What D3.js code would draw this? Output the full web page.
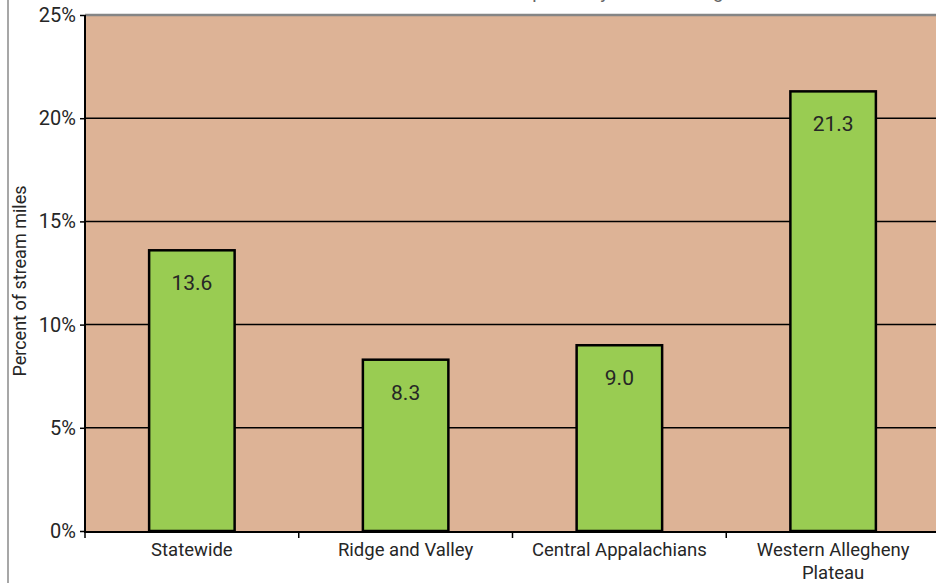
<!DOCTYPE html>
<html>
<head>
<meta charset="utf-8">
<script src="https://cdn.jsdelivr.net/npm/d3@7"></script>
<style>
  html, body { margin: 0; padding: 0; background: #ffffff; }
  svg { display: block; }
  text { font-family: Roboto, "Noto Sans", sans-serif; fill: #262626; }
</style>
</head>
<body>
<svg id="chart" width="936" height="583"></svg>
<script>
// ---- data ----
const categories = ["Statewide", "Ridge and Valley", "Central Appalachians", "Western Allegheny Plateau"];
const categoryLines = [["Statewide"], ["Ridge and Valley"], ["Central Appalachians"], ["Western Allegheny", "Plateau"]];
const values = [13.6, 8.3, 9.0, 21.3];
const yTicks = [0, 5, 10, 15, 20, 25];
const titleText = "Extent of stream miles impaired by mine drainage";
const yTitle = "Percent of stream miles";

// ---- layout ----
const W = 936, H = 583;
const plot = { left: 85, right: 940, top: 15, bottom: 531 };
const bgColor = "#DDB396";
const barColor = "#99CC52";

const svg = d3.select("#chart");

const x = d3.scaleBand()
  .domain(categories)
  .range([plot.left, plot.right])
  .paddingInner(0.6)
  .paddingOuter(0.3);

const y = d3.scaleLinear()
  .domain([0, 25])
  .range([plot.bottom, plot.top]);

// outer frame line at left
svg.append("line")
  .attr("x1", 8).attr("x2", 8).attr("y1", 0).attr("y2", H)
  .attr("stroke", "#8a8a8a").attr("stroke-width", 1.5);

// title (cropped at the top edge, as in the reference)
svg.append("text")
  .attr("x", 525).attr("y", -2)
  .attr("text-anchor", "middle")
  .style("font-size", "19px")
  .style("fill", "#666")
  .text(titleText);

// plot background
svg.append("rect")
  .attr("x", plot.left).attr("y", plot.top)
  .attr("width", plot.right - plot.left)
  .attr("height", plot.bottom - plot.top)
  .attr("fill", bgColor);

// gridlines
svg.append("g")
  .selectAll("line")
  .data(yTicks.filter(d => d > 0 && d < 25))
  .join("line")
  .attr("x1", plot.left).attr("x2", plot.right)
  .attr("y1", d => y(d)).attr("y2", d => y(d))
  .attr("stroke", "#000").attr("stroke-width", 1.5);

// top border (25%)
svg.append("line")
  .attr("x1", plot.left).attr("x2", plot.right)
  .attr("y1", y(25)).attr("y2", y(25))
  .attr("stroke", "#858585").attr("stroke-width", 2.5);

// bars
svg.append("g")
  .selectAll("rect")
  .data(values)
  .join("rect")
  .attr("x", (d, i) => x(categories[i]))
  .attr("y", d => y(d))
  .attr("width", x.bandwidth())
  .attr("height", d => y(0) - y(d))
  .attr("fill", barColor)
  .attr("stroke", "#000")
  .attr("stroke-width", 2.5);

// value labels
svg.append("g")
  .selectAll("text")
  .data(values)
  .join("text")
  .attr("x", (d, i) => x(categories[i]) + x.bandwidth() / 2)
  .attr("y", d => y(d) + 40)
  .attr("text-anchor", "middle")
  .style("font-size", "21px")
  .text(d => d.toFixed(1));

// left axis
const yAxis = d3.axisLeft(y)
  .tickValues(yTicks)
  .tickFormat(d => d + "%")
  .tickSize(5)
  .tickSizeOuter(0)
  .tickPadding(4);
const gy = svg.append("g")
  .attr("transform", `translate(${plot.left},0)`)
  .call(yAxis);
gy.select(".domain").attr("stroke", "#000").attr("stroke-width", 2)
  .attr("d", `M0,${plot.top}V${plot.bottom + 1}`);
gy.selectAll(".tick line").attr("stroke", "#000").attr("stroke-width", 1.5);
gy.selectAll(".tick text")
  .style("font-size", "20px")
  .style("font-family", "Roboto, 'Noto Sans', sans-serif")
  .attr("fill", "#262626");

// bottom axis line
svg.append("line")
  .attr("x1", plot.left - 1).attr("x2", plot.right)
  .attr("y1", plot.bottom + 1).attr("y2", plot.bottom + 1)
  .attr("stroke", "#000").attr("stroke-width", 2);

// category boundary ticks
const boundaries = d3.range(categories.length + 1).map(i => plot.left + i * x.step());
svg.append("g")
  .selectAll("line")
  .data(boundaries)
  .join("line")
  .attr("x1", d => d).attr("x2", d => d)
  .attr("y1", plot.bottom + 1).attr("y2", plot.bottom + 7)
  .attr("stroke", "#000").attr("stroke-width", 1.5);

// category labels
const catG = svg.append("g")
  .selectAll("text")
  .data(categories)
  .join("text")
  .attr("x", d => x(d) + x.bandwidth() / 2)
  .attr("y", 556)
  .attr("text-anchor", "middle")
  .style("font-size", "18.5px");
catG.each(function(d, i) {
  const t = d3.select(this);
  categoryLines[i].forEach((line, j) => {
    t.append("tspan")
      .attr("x", x(d) + x.bandwidth() / 2)
      .attr("dy", j === 0 ? 0 : 23)
      .text(line);
  });
});

// y axis title
svg.append("text")
  .attr("transform", `translate(26,281) rotate(-90)`)
  .attr("text-anchor", "middle")
  .style("font-size", "18px")
  .text(yTitle);
</script>
</body>
</html>
